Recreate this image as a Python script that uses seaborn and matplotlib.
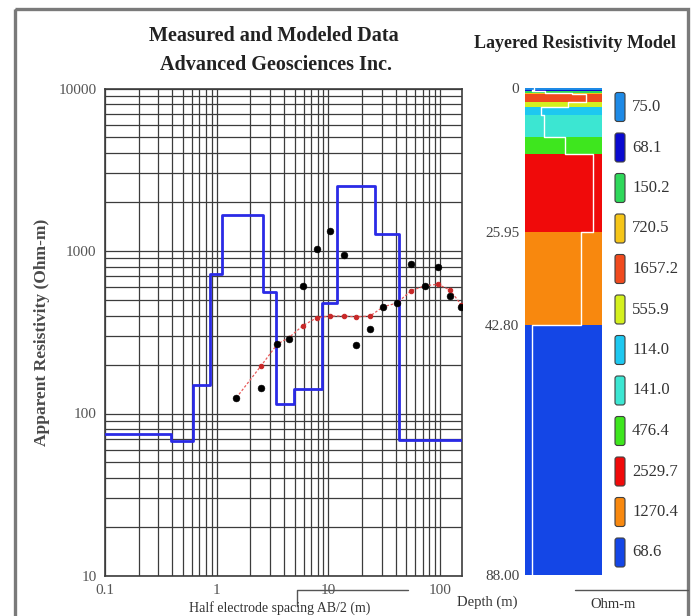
import numpy as np
import pandas as pd
import matplotlib
matplotlib.use("Agg")
import matplotlib.pyplot as plt
import seaborn as sns
from matplotlib.patches import Rectangle, FancyBboxPatch
from matplotlib.ticker import NullFormatter, LogLocator

# ---------------- data ----------------
spacing = [1.5, 2.5, 3.5, 4.4, 5.9, 7.9, 10.4, 13.8, 17.7, 23.6, 31, 41, 55, 73, 95, 123, 155]
measured = [125, 144, 268, 286, 611, 1028, 1328, 941, 264, 330, 454, 476, 828, 611, 794, 529, 454]
calculated = [125, 197, 268, 292, 347, 389, 398, 398, 393, 398, 454, 478, 570, 611, 624, 575, 465]

layer_res = [75.0, 68.1, 150.2, 720.5, 1657.2, 555.9, 114.0, 141.0, 476.4, 2529.7, 1270.4, 68.6]
layer_bottom = [0.39, 0.61, 0.87, 1.11, 2.60, 3.40, 4.92, 8.77, 11.90, 25.95, 42.80, 88.00]
layer_colors = ["#1e8ae6", "#0a0ad0", "#2ed85a", "#f5c518", "#f04a1e", "#d4f01e",
                "#1ec8f0", "#3ce6d2", "#3ee61e", "#f00a0a", "#f8880e", "#1446e6"]

x_ticks = [0.1, 1, 10, 100]
x_ticklabels = ["0.1", "1", "10", "100"]
y_ticks = [10, 100, 1000, 10000]
y_ticklabels = ["10", "100", "1000", "10000"]
depth_ticks = [0, 25.95, 42.80, 88.00]
depth_ticklabels = ["0", "25.95", "42.80", "88.00"]

X_MIN, X_MAX = 0.1, 157
Y_MIN, Y_MAX = 10, 10000

# ---------------- style ----------------
sns.set_theme(style="white")
plt.rcParams["font.family"] = ["Liberation Serif", "DejaVu Serif"]
W, H = 697, 616
fig = plt.figure(figsize=(W / 100, H / 100), dpi=100)
fig.patch.set_facecolor("white")

def fx(px):
    return px / W

def fy(py):
    return 1 - py / H

# overlay axes in pixel coordinates for decorations
ov = fig.add_axes([0, 0, 1, 1], zorder=-1)
ov.set_xlim(0, W)
ov.set_ylim(H, 0)
ov.axis("off")
ov.add_patch(Rectangle((15, 9), 673, 640, fill=False, ec="#7a7a7a", lw=2.4))
ov.text(274, 36, "Measured and Modeled Data", ha="center", va="center",
        fontsize=14.5, fontweight="bold", color="#222")
ov.text(276, 65, "Advanced Geosciences Inc.", ha="center", va="center",
        fontsize=14.5, fontweight="bold", color="#222")
ov.text(575, 44, "Layered Resistivity Model", ha="center", va="center",
        fontsize=13, fontweight="bold", color="#222")
ov.plot([297, 297, 408], [606, 590, 590], color="#555", lw=1.0)
ov.plot([575, 688], [590, 590], color="#555", lw=1.0)
ov.text(280, 615, "Half electrode spacing AB/2 (m)", ha="center", va="bottom",
        fontsize=10, color="#333")
ov.text(487, 602, "Depth (m)", ha="center", va="center", fontsize=10.5, color="#333")
ov.text(613, 604, "Ohm-m", ha="center", va="center", fontsize=10.5, color="#333")

# ---------------- main sounding axes ----------------
ax = fig.add_axes([fx(105), fy(576), fx(462) - fx(105), fy(88.5) - fy(576)])
ax.set_xscale("log")
ax.set_yscale("log")
ax.set_xlim(X_MIN, X_MAX)
ax.set_ylim(Y_MIN, Y_MAX)

model_x = [X_MIN] + layer_bottom[:-1] + [X_MAX]
model_y = layer_res + [layer_res[-1]]
sns.lineplot(x=model_x, y=model_y, ax=ax, color="#2a2ae6", lw=2.0,
             drawstyle="steps-post", estimator=None, sort=False, zorder=3)
sns.lineplot(x=spacing, y=calculated, ax=ax, color="#e85a5a", lw=0.9,
             linestyle=(0, (2, 1.5)), marker="o", markersize=3.2,
             markerfacecolor="#c82828", markeredgecolor="#c82828",
             estimator=None, sort=False, zorder=4)
sns.scatterplot(x=spacing, y=measured, ax=ax, color="black", s=24,
                edgecolor="black", zorder=5)

ax.xaxis.set_minor_locator(LogLocator(base=10, subs=np.arange(2, 10)))
ax.yaxis.set_minor_locator(LogLocator(base=10, subs=np.arange(2, 10)))
ax.set_xticks(x_ticks, x_ticklabels)
ax.set_yticks(y_ticks, y_ticklabels)
ax.xaxis.set_minor_formatter(NullFormatter())
ax.yaxis.set_minor_formatter(NullFormatter())
ax.set_xlim(X_MIN, X_MAX)
ax.set_ylim(Y_MIN, Y_MAX)
ax.grid(True, which="both", color="#3c3c3c", lw=0.9)
ax.set_axisbelow(True)
ax.tick_params(which="both", length=0, labelsize=11, labelcolor="#555", pad=6)
for s in ax.spines.values():
    s.set_color("#3c3c3c")
    s.set_linewidth(1.2)
ax.set_xlabel("")
ax.set_ylabel("Apparent Resistivity (Ohm-m)", fontsize=12.5, fontweight="bold",
              color="#4a4a4a")
ax.yaxis.set_label_coords(-0.155, 0.5)

# ---------------- layered model column ----------------
ax2 = fig.add_axes([fx(525), fy(575), fx(602) - fx(525), fy(88) - fy(575)])
ax2.set_xscale("log")
ax2.set_xlim(45, 4270)
ax2.set_ylim(88, 0)
tops = [0] + layer_bottom[:-1]
for t, b, c in zip(tops, layer_bottom, layer_colors):
    ax2.axhspan(t, b, color=c, lw=0)
prof_x = np.repeat(layer_res, 2)
prof_y = np.ravel(np.column_stack([tops, layer_bottom]))
sns.lineplot(x=prof_x, y=prof_y, ax=ax2, color="white", lw=1.0,
             estimator=None, sort=False, orient="y", zorder=3)
ax2.set_xticks([])
ax2.xaxis.set_minor_locator(matplotlib.ticker.NullLocator())
ax2.set_yticks(depth_ticks, depth_ticklabels)
ax2.tick_params(axis="y", length=0, labelsize=11, labelcolor="#444", pad=4)
ax2.set_xlabel("")
ax2.set_ylabel("")
for s in ax2.spines.values():
    s.set_visible(False)

# legend swatches
for i, (r, c) in enumerate(zip(layer_res, layer_colors)):
    cy = 107 + i * 40.5
    ov.add_patch(FancyBboxPatch((615, cy - 14.5), 10, 29,
                                boxstyle="round,pad=0,rounding_size=2.5",
                                fc=c, ec="#404040", lw=0.8))
    ov.text(632, cy, f"{r:.1f}", ha="left", va="center", fontsize=12, color="#333")

fig.savefig("out.png", dpi=100, facecolor="white")
